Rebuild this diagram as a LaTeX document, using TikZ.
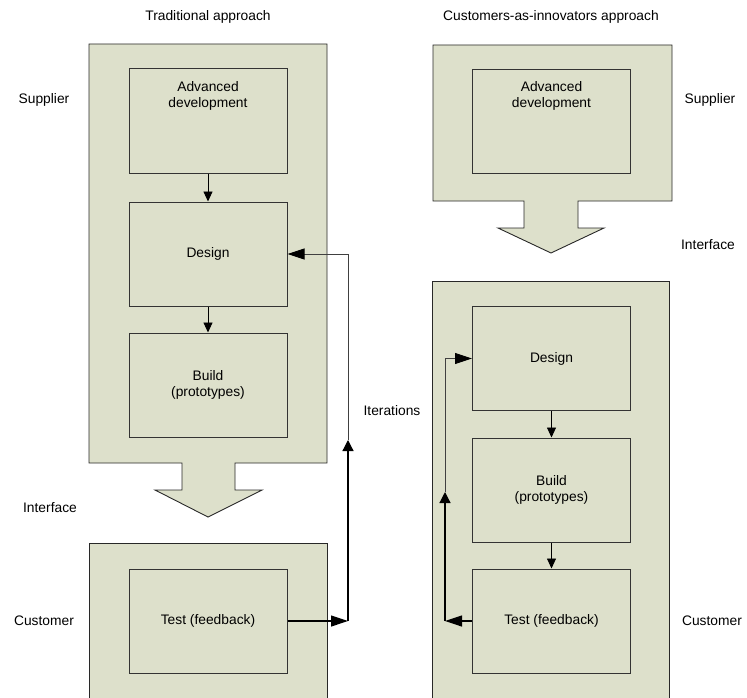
\documentclass[tikz,border=0pt]{standalone}
\usepackage{fontspec}
\setmainfont{Liberation Sans}
\usetikzlibrary{arrows.meta}
\definecolor{panelfill}{RGB}{221,224,203}
\definecolor{paneledge}{RGB}{40,40,40}
\begin{document}
\begin{tikzpicture}[x=1pt,y=-1pt,
  every node/.style={font=\fontsize{13.8}{16}\selectfont, text=black},
  panel/.style={fill=panelfill, draw=paneledge, line width=0.9pt},
  stagebox/.style={draw=black!80, line width=1pt, fill=panelfill,
    minimum width=158pt, minimum height=104pt, align=center, inner sep=0pt},
  toptext/.style={align=center, inner sep=0pt},
  flow/.style={draw=black, line width=0.9pt, -{Triangle[length=10pt,width=9pt]}},
  loophoriz/.style={draw=black, line width=1.2pt, -{Triangle[length=17pt,width=11pt]}},
  loopvert/.style={draw=black, line width=1.2pt, -{Triangle[length=11pt,width=11pt]}},
  loopback/.style={draw=black!75, line width=0.9pt,
    -{Triangle[length=17pt,width=11pt,color=black,fill=black]}},
  lbl/.style={anchor=center}
]
\useasboundingbox (0,0) rectangle (747,698);
\clip (0,0) rectangle (747,698);

% Traditional approach: supplier block with interface arrow
\path[panel] (89,44) -- (327,44) -- (327,463) -- (235,463) -- (235,490)
  -- (262,490) -- (208,517) -- (155,490) -- (182,490) -- (182,463)
  -- (89,463) -- cycle;
% Traditional approach: customer block
\path[panel] (89,543) rectangle (327,712);

% Customers-as-innovators: supplier block with interface arrow
\path[panel] (433,45) -- (672,45) -- (672,201) -- (578,201) -- (578,228)
  -- (604,228) -- (551,253) -- (498,228) -- (524,228) -- (524,201)
  -- (433,201) -- cycle;
% Customers-as-innovators: customer block
\path[panel] (432,281) rectangle (669,712);

% Headings and side labels
\node[lbl] (hleft) at (208,17) {Traditional approach};
\node[lbl] (hright) at (551,17) {Customers-as-innovators approach};
\node[lbl] (supl) at (44,100) {Supplier};
\node[lbl] (supr) at (710,100) {Supplier};
\node[lbl] (intl) at (50,508) {Interface};
\node[lbl] (intr) at (708,245) {Interface};
\node[lbl] (cusl) at (44,621) {Customer};
\node[lbl] (cusr) at (712,621) {Customer};
\node[lbl] (iter) at (392,411) {Iterations};

% Stages, traditional approach
\node[stagebox] (ladv) at (208,121) {};
\node[toptext] (ladvtxt) at (208,96) {Advanced\\development};
\node[stagebox] (ldes) at (208,254) {Design};
\node[stagebox] (lbld) at (208,385) {Build\\(prototypes)};
\node[stagebox] (ltst) at (208,621) {Test (feedback)};

% Stages, customers-as-innovators approach
\node[stagebox] (radv) at (551.5,121.5) {};
\node[toptext] (radvtxt) at (551.5,96) {Advanced\\development};
\node[stagebox] (rdes) at (551.5,358.5) {Design};
\node[stagebox] (rbld) at (551.5,490) {Build\\(prototypes)};
\node[stagebox] (rtst) at (551.5,621) {Test (feedback)};

% Sequential flow
\draw[flow] (ladv) -- (ldes);
\draw[flow] (ldes) -- (lbld);
\draw[flow] (rdes) -- (rbld);
\draw[flow] (rbld) -- (rtst);

% Iteration loop, traditional approach
\coordinate (lbot) at (348,621);
\coordinate (lmid) at (348,440);
\draw[loophoriz] (ltst.east) -- (lbot);
\draw[loopvert] (lbot) -- (lmid);
\draw[loopback] (lmid) |- (ldes.east);

% Iteration loop, customers-as-innovators approach
\coordinate (rbot) at (445,621);
\coordinate (rmid) at (445,492);
\draw[loophoriz] (rtst.west) -- (rbot);
\draw[loopvert] (rbot) -- (rmid);
\draw[loopback] (rmid) |- (rdes.west);
\end{tikzpicture}
\end{document}
